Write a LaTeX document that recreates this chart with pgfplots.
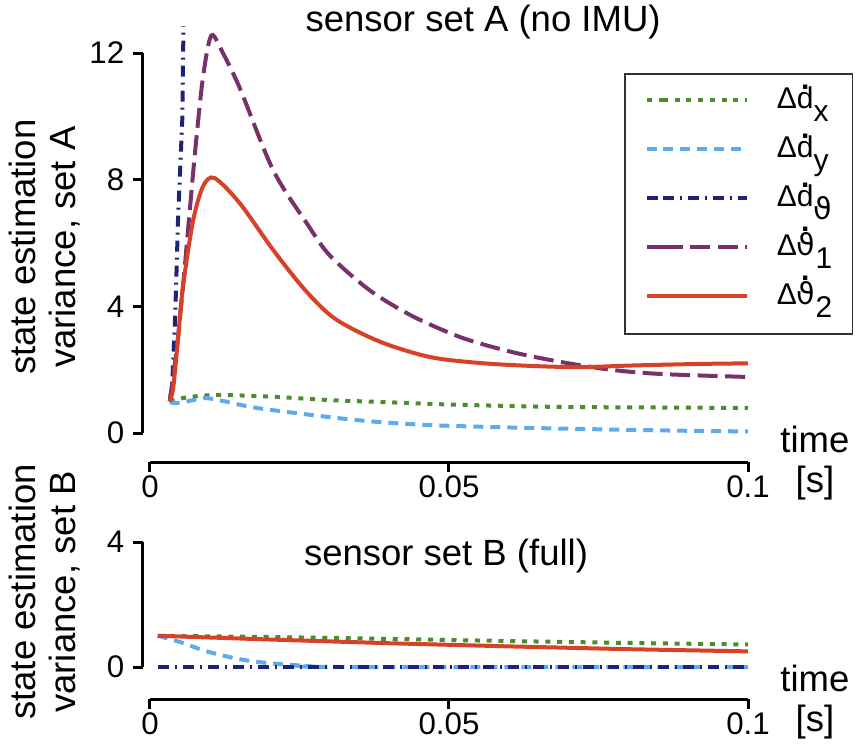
\documentclass[border=0pt]{standalone}
\usepackage{fontspec}
\setmainfont{Liberation Sans}
\newfontfamily\dejavu{DejaVu Sans}
\usepackage{pgfplots}
\pgfplotsset{compat=1.18}

\definecolor{cdx}{RGB}{75,140,45}
\definecolor{cdy}{RGB}{95,170,235}
\definecolor{cdt}{RGB}{30,35,120}
\definecolor{cva}{RGB}{120,50,105}
\definecolor{cvb}{RGB}{215,65,40}

\newcommand{\labsize}{\fontsize{14.6}{16}\selectfont}
\newcommand{\ticksize}{\fontsize{12.5}{14}\selectfont}
\newcommand{\legsize}{\fontsize{12}{14}\selectfont}
\newcommand{\dotacc}[2][0.66em]{\makebox[0pt][l]{\hspace{0.14em}\raisebox{#1}{\textbf{.}}}#2}
\newcommand{\sub}[1]{\raisebox{-0.42em}{#1}}
\newcommand{\vth}{{\dejavu ϑ}}

\pgfplotsset{
  panel/.style={scale only axis, width=239.2pt, xmin=0, xmax=0.1,
    axis lines*=left, axis y line shift=2.8pt, clip=false,
    tick align=outside, major tick length=4pt,
    axis line style={line width=1.2pt},
    every tick/.style={black, line width=1.2pt},
    xtick={0,0.05,0.1}, xticklabels={0,0.05,0.1},
    tick label style={font=\ticksize},
    xticklabel style={yshift=2pt},
    label style={font=\labsize, align=center},
    title style={font=\labsize},
    /pgf/number format/assume math mode=true,
    every axis plot/.append style={line width=1.6pt}},
  sdx/.style={cdx, dash pattern=on 2pt off 2.7pt},
  sdy/.style={cdy, dash pattern=on 4pt off 2.8pt},
  sdt/.style={cdt, dash pattern=on 4.4pt off 2.4pt on 0.8pt off 2.4pt},
  sva/.style={cva, dash pattern=on 8pt off 3pt},
  svb/.style={cvb, solid},
}

\begin{document}
\begin{tikzpicture}
\useasboundingbox (-60pt,-124.8pt) rectangle (283.2pt,173.2pt);

% sensor set A
\begin{axis}[panel, height=152pt, ymin=0, ymax=12,
  axis x line shift=11.6pt,
  ytick={0,4,8,12}, yticklabels={0,4,8,12},
  title={sensor set A (no IMU)},
  title style={at={(axis description cs:0.557,1.042)}, anchor=center},
  ylabel={state estimation\\variance, set A},
  ylabel style={at={(axis description cs:-0.1756,0.489)}, anchor=center},
  xlabel={time\\{[s]}},
  xlabel style={at={(axis description cs:1.112,-0.0789)}, anchor=center},
  legend style={at={(axis description cs:1.1756,0.947)}, anchor=north east,
    draw=black!80, line width=0.6pt, fill=white, inner xsep=8pt, inner ysep=3pt,
    row sep=0pt, column sep=11.2pt, font=\legsize,
    nodes={inner sep=0pt, text height=11pt, text depth=8.6pt}},
  legend cell align=left,
  legend image code/.code={\path (-6.4pt,0.25em) -- (0pt,0.25em);
    \draw[#1, line width=1.6pt] (0pt,0.25em) -- (33.6pt,0.25em);},
]
\addplot[sdx, smooth, tension=0.5] coordinates {(0.0033,1.0) (0.006,1.12) (0.011,1.2) (0.02,1.15) (0.03,1.04) (0.04,0.97) (0.05,0.9) (0.0635,0.84) (0.07,0.82) (0.08,0.81) (0.09,0.8) (0.1,0.79)};
\addlegendentry{Δ\dotacc{d}\sub{x}}
\addplot[sdy, smooth, tension=0.5] coordinates {(0.0033,0.97) (0.005,0.95) (0.009,1.1) (0.012,1.02) (0.0179,0.79) (0.0301,0.5) (0.038,0.35) (0.0468,0.25) (0.055,0.2) (0.0635,0.16) (0.08,0.1) (0.09,0.07) (0.1,0.05)};
\addlegendentry{Δ\dotacc{d}\sub{y}}
\addplot[sdt] coordinates {(0.0033,1.0) (0.0037,1.5) (0.0042,3.6) (0.0047,6.8) (0.0054,9.9) (0.0056,12.85)};
\addlegendentry{Δ\dotacc{d}\sub{\vth}}
\addplot[sva, smooth, tension=0.5] coordinates {(0.0033,1.0) (0.0045,2.7) (0.0055,4.6) (0.0065,6.7) (0.0075,8.8) (0.0087,11.0) (0.0097,12.2) (0.0105,12.57) (0.0122,12.0) (0.015,10.9) (0.0206,8.3) (0.0263,6.6) (0.0301,5.6) (0.0368,4.5) (0.044,3.68) (0.0523,3.0) (0.0607,2.55) (0.0691,2.23) (0.0774,1.99) (0.0858,1.86) (0.1,1.77)};
\addlegendentry{Δ\dotacc[0.8em]{\vth}\sub{1}}
\addplot[svb, smooth, tension=0.5] coordinates {(0.0033,1.0) (0.0039,1.45) (0.0047,3.0) (0.0055,4.6) (0.0072,6.7) (0.0089,7.8) (0.0108,8.05) (0.015,7.26) (0.0206,5.78) (0.026,4.5) (0.031,3.6) (0.0385,2.88) (0.0468,2.4) (0.0552,2.21) (0.0635,2.12) (0.0719,2.08) (0.0803,2.13) (0.0915,2.18) (0.1,2.2)};
\addlegendentry{Δ\dotacc[0.8em]{\vth}\sub{2}}
\end{axis}

% sensor set B
\begin{axis}[panel, at={(0pt,-93.6pt)}, anchor=south west, height=50pt, ymin=0, ymax=4,
  axis x line shift=12.8pt,
  ytick={0,4}, yticklabels={0,4},
  title={sensor set B (full)},
  title style={at={(axis description cs:0.495,0.768)}, anchor=center},
  ylabel={state estimation\\variance, set B},
  ylabel style={at={(axis description cs:-0.1756,0.6)}, anchor=center},
  xlabel={time\\{[s]}},
  xlabel style={at={(axis description cs:1.112,-0.28)}, anchor=center},
]
\addplot[sdx] coordinates {(0.0013,1.0) (0.02,0.96) (0.04,0.9) (0.06,0.83) (0.08,0.77) (0.1,0.72)};
\addplot[sdy, smooth, tension=0.5] coordinates {(0.0013,1.0) (0.005,0.8) (0.0095,0.5) (0.015,0.25) (0.02,0.12) (0.026,0.04) (0.032,0.0) (0.1,0.0)};
\addplot[sdt] coordinates {(0.0013,0.0) (0.1,0.0)};
\addplot[svb] coordinates {(0.0013,1.0) (0.02,0.88) (0.04,0.76) (0.06,0.66) (0.08,0.57) (0.1,0.5)};
\end{axis}
\end{tikzpicture}
\end{document}
